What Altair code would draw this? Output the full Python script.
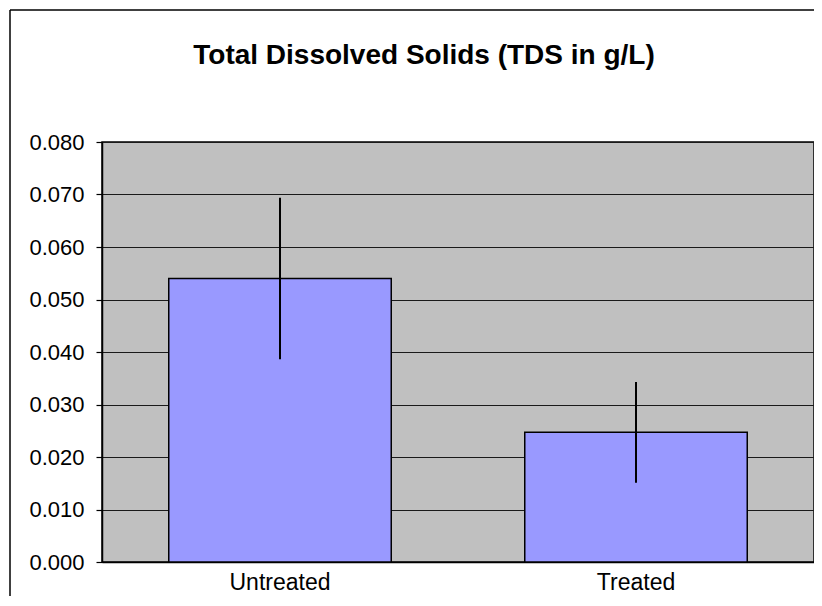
import altair as alt
import pandas as pd

# ---- data ----
categories = ["Untreated", "Treated"]
means = [0.0540, 0.0247]
errors = [0.0154, 0.0096]
y_ticks = [0.000, 0.010, 0.020, 0.030, 0.040, 0.050, 0.060, 0.070, 0.080]
title_text = "Total Dissolved Solids (TDS in g/L)"

df = pd.DataFrame({"cat": categories, "mean": means, "err": errors})
df["lo"] = df["mean"] - df["err"]
df["hi"] = df["mean"] + df["err"]

FONT = "Liberation Sans, Arial, sans-serif"

x_enc = alt.X(
    "cat:N",
    sort=categories,
    title=None,
    scale=alt.Scale(paddingInner=0.375, paddingOuter=0.1875),
    axis=alt.Axis(
        labelAngle=0,
        ticks=False,
        labelFontSize=23,
        labelFont=FONT,
        labelColor="black",
        labelPadding=9,
        domainColor="black",
        domainWidth=1.5,
        grid=False,
    ),
)

y_enc = alt.Y(
    "mean:Q",
    title=None,
    scale=alt.Scale(domain=[0, 0.08], nice=False),
    axis=alt.Axis(
        values=y_ticks,
        format=".3f",
        labelFontSize=22,
        labelFont=FONT,
        labelColor="black",
        labelPadding=12,
        tickSize=6,
        tickColor="black",
        tickWidth=1.2,
        domainColor="black",
        domainWidth=1.5,
        grid=True,
        gridColor="#1a1a1a",
        gridWidth=1.2,
        gridOpacity=1,
    ),
)

bars = alt.Chart(df).mark_bar(color="#9999FF", stroke="black", strokeWidth=1.5).encode(
    x=x_enc, y=y_enc
)

err = alt.Chart(df).mark_rule(color="black", strokeWidth=2).encode(
    x=alt.X("cat:N", sort=categories),
    y="lo:Q",
    y2="hi:Q",
)

# outer chart frame (decoration): top and left edges only, the rest runs off the page
one = pd.DataFrame({"a": [0]})
frame_top = alt.Chart(one).mark_rule(color="black", strokeWidth=1.5).encode(
    x=alt.value(-92), x2=alt.value(1000), y=alt.value(-132)
)
frame_left = alt.Chart(one).mark_rule(color="black", strokeWidth=1.5).encode(
    x=alt.value(-92), y=alt.value(-132), y2=alt.value(900)
)

chart = (
    alt.layer(bars, err, frame_top, frame_left)
    .properties(
        width=712,
        height=420,
        autosize=alt.AutoSizeParams(type="none"),
        padding={"left": 94, "top": 134, "right": 0, "bottom": 34},
        title=alt.TitleParams(
            title_text,
            font=FONT,
            fontSize=28,
            fontWeight="bold",
            color="black",
            anchor="middle",
            dx=-34,
            offset=0,
            dy=83,
            baseline="alphabetic",
        ),
    )
    .configure(background="white")
    .configure_view(fill="#C0C0C0", stroke="black", strokeWidth=1.5)
)

chart.save("out.html", embed_options={"renderer": "svg", "actions": False})
